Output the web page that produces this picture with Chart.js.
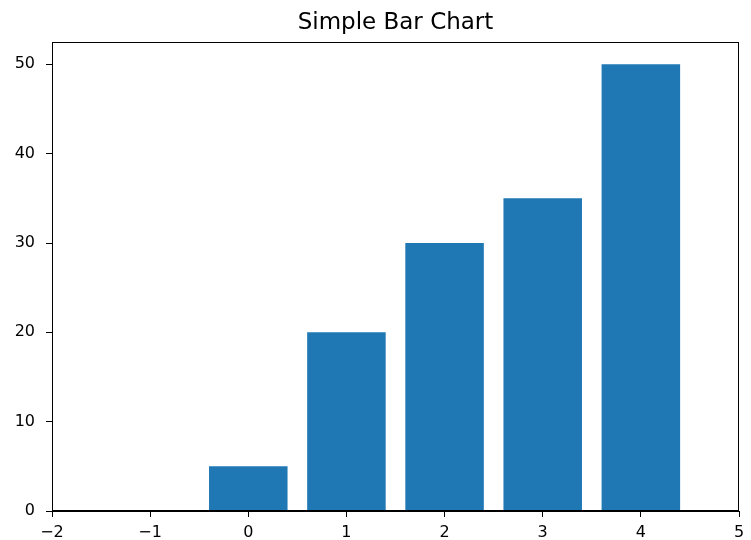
<!DOCTYPE html>
<html>
<head>
<meta charset="utf-8">
<script src="https://cdn.jsdelivr.net/npm/chart.js@4/dist/chart.umd.min.js"></script>
<style>
  html, body { margin: 0; padding: 0; background: #fff; }
  #wrap { width: 751px; height: 540px; }
</style>
</head>
<body>
<div id="wrap"><canvas id="barChart" width="751" height="540"></canvas></div>
<script>
// chart data
const positions = [0, 1, 2, 3, 4];
const values = [5, 20, 30, 35, 50];
const xTicks = [-2, -1, 0, 1, 2, 3, 4, 5];
const yTicks = [0, 10, 20, 30, 40, 50];

const FONT = "'DejaVu Sans', sans-serif";

// draw the black box around the plot area like matplotlib
const frame = {
    id: 'frame',
    afterDraw(chart) {
        const a = chart.chartArea;
        const ctx = chart.ctx;
        ctx.save();
        ctx.strokeStyle = '#000';
        ctx.lineWidth = 1;
        ctx.strokeRect(a.left + 0.5, a.top + 0.5, a.right - a.left - 1, a.bottom - a.top - 1);
        ctx.restore();
    }
};

const minus = v => String(v).replace('-', '\u2212');

new Chart(document.getElementById('barChart'), {
    type: 'bar',
    data: {
        datasets: [{
            data: positions.map((p, i) => ({ x: p, y: values[i] })),
            backgroundColor: '#1f77b4',
            borderWidth: 0,
            categoryPercentage: 1,
            barPercentage: 0.8
        }]
    },
    options: {
        responsive: false,
        animation: false,
        layout: { padding: { left: 0, right: 12, top: 0, bottom: 0 } },
        plugins: {
            legend: { display: false },
            tooltip: { enabled: false },
            title: {
                display: true,
                fullSize: false,   // centre over the plot area, not the canvas
                text: 'Simple Bar Chart',
                color: '#000',
                font: { family: FONT, size: 23, weight: 'normal' },
                padding: { top: 9, bottom: 5.4 }
            }
        },
        scales: {
            x: {
                type: 'linear',
                offset: false,
                min: xTicks[0],
                max: xTicks[xTicks.length - 1],
                afterBuildTicks: s => { s.ticks = xTicks.map(v => ({ value: v })); },
                afterFit: s => { s.height = 29; },
                ticks: {
                    color: '#000',
                    font: { family: FONT, size: 16 },
                    padding: 6,
                    maxRotation: 0,
                    callback: v => minus(v)
                },
                grid: { offset: false, drawOnChartArea: false, drawTicks: true, tickLength: 6, tickColor: '#000' },
                border: { display: true, color: '#000' }
            },
            y: {
                min: 0,
                max: 52.5,
                afterBuildTicks: s => { s.ticks = yTicks.map(v => ({ value: v })); },
                afterFit: s => { s.width = 52; },
                ticks: {
                    color: '#000',
                    font: { family: FONT, size: 16 },
                    padding: 11,
                    callback: v => minus(v)
                },
                grid: { drawOnChartArea: false, drawTicks: true, tickLength: 6, tickColor: '#000' },
                border: { display: true, color: '#000' }
            }
        }
    },
    plugins: [frame]
});
</script>
</body>
</html>
